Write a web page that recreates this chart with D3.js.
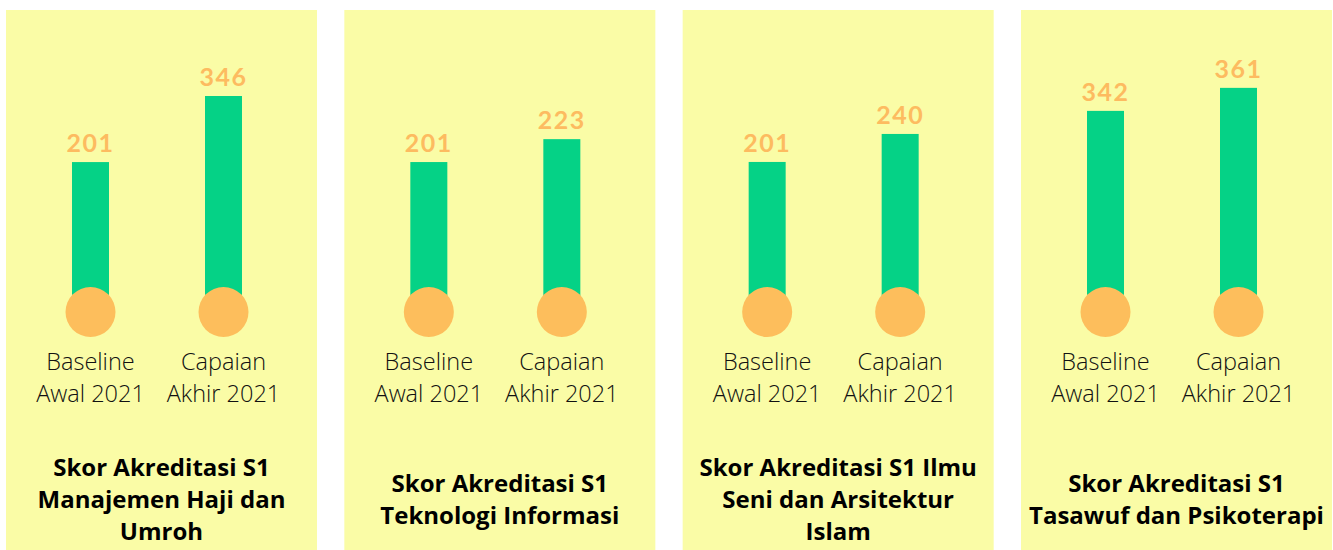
<!DOCTYPE html>
<html lang="id">
<head>
  <meta charset="utf-8">
  <title>Skor Akreditasi S1</title>
  <script src="https://d3js.org/d3.v7.min.js"></script>
  <style>
    body {
      margin: 0;
      background: #fff;
    }
    .value-label {
      font-family: Lato, "Noto Sans", sans-serif;
      font-weight: 700;
      font-size: 25px;
      fill: #fdbb60;
      letter-spacing: 1.5px;
    }
    .cat-label {
      font-family: "Open Sans", "Noto Sans", sans-serif;
      font-weight: 300;
      font-size: 23.5px;
      fill: #111;
    }
    .panel-title {
      font-family: "Open Sans", "Noto Sans", sans-serif;
      font-weight: 700;
      font-size: 24px;
      fill: #000;
    }
  </style>
</head>
<body>
  <div id="chart"></div>
  <script>
    // Data read from the infographic
    const categories = [["Baseline", "Awal 2021"], ["Capaian", "Akhir 2021"]];
    const baselineScores = [201, 201, 201, 342];
    const achievedScores = [346, 223, 240, 361];
    const panelTitles = [
      ["Skor Akreditasi S1", "Manajemen Haji dan", "Umroh"],
      ["Skor Akreditasi S1", "Teknologi Informasi"],
      ["Skor Akreditasi S1 Ilmu", "Seni dan Arsitektur", "Islam"],
      ["Skor Akreditasi S1", "Tasawuf dan Psikoterapi"]
    ];
    // each panel was drawn with its own (hand set) value range
    const scaleMin = [-128, 57, -8, 176];
    const scaleMax = [425, 299, 343, 384];

    const width = 1333;
    const height = 550;
    const panelTop = 10;
    const bulbY = 312;
    const topY = 60;
    const barWidth = 37;
    const bulbR = 25;

    const svg = d3.select("#chart")
      .append("svg")
      .attr("width", width)
      .attr("height", height);

    const panelX = d3.scaleBand()
      .domain(d3.range(panelTitles.length))
      .range([6, 1332])
      .paddingInner(0.0808)
      .paddingOuter(0);

    const catKeys = categories.map(c => c.join(" "));
    const x = d3.scaleBand()
      .domain(catKeys)
      .range([18, 284]);

    const panels = svg.selectAll("g.panel")
      .data(panelTitles.map((t, i) => ({
        i: i,
        title: t,
        values: [baselineScores[i], achievedScores[i]]
      })))
      .join("g")
      .attr("class", "panel")
      .attr("transform", d => `translate(${panelX(d.i)},0)`);

    panels.append("rect")
      .attr("x", 0)
      .attr("y", panelTop)
      .attr("width", panelX.bandwidth())
      .attr("height", height - panelTop)
      .attr("fill", "#fafca6");

    panels.each(function(d) {
      const g = d3.select(this);
      const y = d3.scaleLinear()
        .domain([scaleMin[d.i], scaleMax[d.i]])
        .range([bulbY, topY]);

      const items = d.values.map((v, j) => ({ key: catKeys[j], lines: categories[j], value: v }));
      const cx = k => x(k) + x.bandwidth() / 2;

      // thermometer stems
      g.selectAll("rect.bar")
        .data(items)
        .join("rect")
        .attr("class", "bar")
        .attr("x", e => cx(e.key) - barWidth / 2)
        .attr("y", e => y(e.value))
        .attr("width", barWidth)
        .attr("height", e => bulbY - y(e.value))
        .attr("fill", "#05d286");

      // bulbs
      g.selectAll("circle.bulb")
        .data(items)
        .join("circle")
        .attr("class", "bulb")
        .attr("cx", e => cx(e.key))
        .attr("cy", bulbY)
        .attr("r", bulbR)
        .attr("fill", "#fdbe5c");

      // value labels
      g.selectAll("text.value-label")
        .data(items)
        .join("text")
        .attr("class", "value-label")
        .attr("x", e => cx(e.key))
        .attr("y", e => y(e.value) - 10)
        .attr("text-anchor", "middle")
        .text(e => e.value);

      // category labels
      const cat = g.selectAll("text.cat-label")
        .data(items)
        .join("text")
        .attr("class", "cat-label")
        .attr("text-anchor", "middle");
      cat.selectAll("tspan")
        .data(e => e.lines.map(l => ({ l: l, x: cx(e.key) })))
        .join("tspan")
        .attr("x", t => t.x)
        .attr("y", (t, k) => 370 + k * 32)
        .text(t => t.l);

      // title
      const n = d.title.length;
      g.append("text")
        .attr("class", "panel-title")
        .attr("text-anchor", "middle")
        .selectAll("tspan")
        .data(d.title)
        .join("tspan")
        .attr("x", panelX.bandwidth() / 2)
        .attr("y", (t, k) => 508 + (k - (n - 1) / 2) * 32)
        .text(t => t);
    });
  </script>
</body>
</html>
